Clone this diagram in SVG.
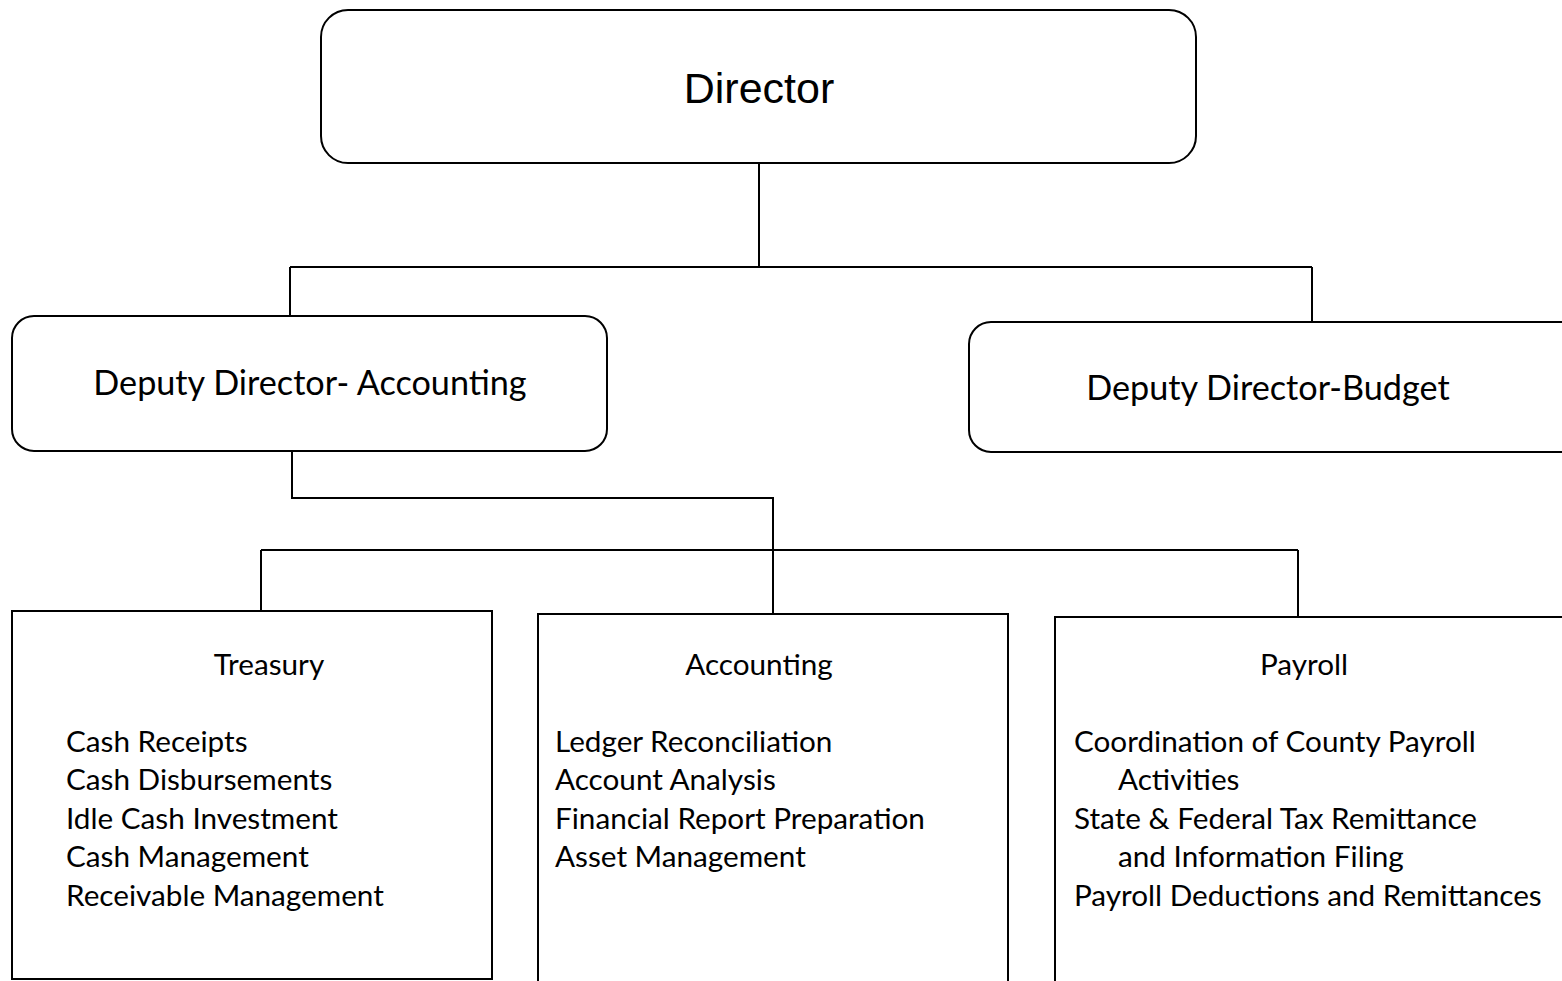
<svg xmlns="http://www.w3.org/2000/svg" width="1562" height="981" viewBox="0 0 1562 981">
<style>
.box{fill:#fff;stroke:#000;stroke-width:2}
.ln{fill:none;stroke:#000;stroke-width:2}
.t{font-family:Lato,"Liberation Sans",sans-serif;fill:#000}
.h{font-size:34.2px}
.s{font-size:29.7px}
</style>
<rect width="1562" height="981" fill="#fff"/>
<g id="connectors">
<path class="ln" d="M759 163V267M290 267H1312M290 267V316M1312 267V322"/>
<path class="ln" d="M292 451V498H773V614M261 550H1298M261 550V611M1298 550V617"/>
</g>
<g id="director">
<rect class="box" x="321" y="10" width="875" height="153" rx="27"/>
<text x="759" y="103" text-anchor="middle" font-family="'Liberation Sans',Arial,sans-serif" font-size="43">Director</text>
</g>
<g id="deputy-accounting">
<rect class="box" x="12" y="316" width="595" height="135" rx="22"/>
<text class="t h" x="310" y="395" text-anchor="middle">Deputy Director- Accounting</text>
</g>
<g id="deputy-budget">
<rect class="box" x="969" y="322" width="620" height="130" rx="22"/>
<text class="t h" x="1268" y="400" text-anchor="middle">Deputy Director-Budget</text>
</g>
<g id="treasury">
<rect class="box" x="12" y="611" width="480" height="368"/>
<text class="t s" x="269" y="675" text-anchor="middle">Treasury</text>
<text class="t s" x="66" y="752">Cash Receipts</text>
<text class="t s" x="66" y="790">Cash Disbursements</text>
<text class="t s" x="66" y="829">Idle Cash Investment</text>
<text class="t s" x="66" y="867">Cash Management</text>
<text class="t s" x="66" y="906">Receivable Management</text>
</g>
<g id="accounting">
<rect class="box" x="538" y="614" width="470" height="380"/>
<text class="t s" x="759" y="675" text-anchor="middle">Accounting</text>
<text class="t s" x="555" y="752">Ledger Reconciliation</text>
<text class="t s" x="555" y="790">Account Analysis</text>
<text class="t s" x="555" y="829">Financial Report Preparation</text>
<text class="t s" x="555" y="867">Asset Management</text>
</g>
<g id="payroll">
<rect class="box" x="1055" y="617" width="530" height="380"/>
<text class="t s" x="1304" y="675" text-anchor="middle">Payroll</text>
<text class="t s" x="1074" y="752">Coordination of County Payroll</text>
<text class="t s" x="1118" y="790">Activities</text>
<text class="t s" x="1074" y="829">State &amp; Federal Tax Remittance</text>
<text class="t s" x="1118" y="867">and Information Filing</text>
<text class="t s" x="1074" y="906">Payroll Deductions and Remittances</text>
</g>
</svg>
